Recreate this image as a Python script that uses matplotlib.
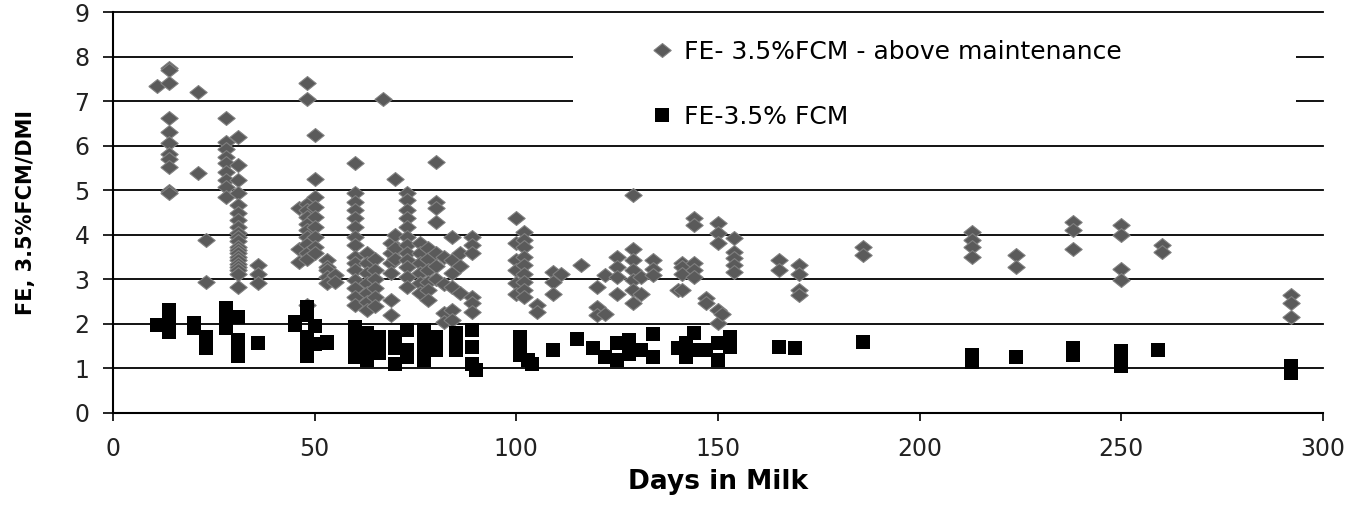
import matplotlib
matplotlib.use("Agg")
import matplotlib.pyplot as plt
from matplotlib.patches import Rectangle

# FE above maintenance: one entry per day in milk, with the cows' values on that day
above_days = [11, 14, 21, 23, 28, 31, 36, 46, 48, 50, 53, 55, 60, 63, 65, 67, 69, 70,
              73, 76, 78, 80, 82, 84, 86, 89, 100, 102, 105, 109, 111, 116, 120, 122,
              125, 129, 131, 134, 140, 141, 144, 147, 150, 151, 154, 165, 170, 186,
              213, 224, 238, 250, 260, 292]
above_fe = [
    [7.35],
    [7.75, 7.69, 7.4, 6.61, 6.31, 6.05, 5.82, 5.71, 5.52, 4.98, 4.93],
    [7.2, 5.38],
    [3.88, 2.94],
    [6.61, 6.08, 5.93, 5.75, 5.6, 5.41, 5.22, 5.07, 4.85],
    [6.2, 5.56, 5.22, 4.93, 4.66, 4.48, 4.33, 4.18, 4.03, 3.95, 3.85, 3.73, 3.65,
     3.58, 3.5, 3.43, 3.35, 3.28, 3.2, 3.13, 2.83],
    [3.32, 3.13, 2.91],
    [4.59, 3.69, 3.39],
    [7.4, 7.05, 4.7, 4.55, 4.4, 4.25, 4.1, 3.95, 3.8, 3.6, 3.45, 2.42],
    [6.23, 5.26, 4.85, 4.63, 4.4, 4.18, 3.95, 3.73, 3.58],
    [3.43, 3.28, 3.2, 3.06, 2.91],
    [3.1, 2.95],
    [5.6, 4.93, 4.74, 4.56, 4.37, 4.18, 3.96, 3.77, 3.51, 3.36, 3.21, 2.99, 2.8, 2.61, 2.42],
    [3.58, 3.36, 3.14, 2.91, 2.69, 2.5, 2.31],
    [3.45, 3.2, 3.0, 2.8, 2.6, 2.4],
    [7.05],
    [3.81, 3.58, 3.36, 3.14, 2.54, 2.2],
    [5.26, 4.0, 3.7, 3.45],
    [4.93, 4.78, 4.56, 4.37, 4.18, 3.96, 3.77, 3.58, 3.43, 3.28, 3.06, 2.83],
    [3.81, 3.58, 3.36, 3.14, 2.91, 2.69],
    [3.7, 3.45, 3.2, 2.95, 2.75, 2.54],
    [5.63, 4.74, 4.59, 4.29, 3.6, 3.3, 3.0],
    [3.5, 2.9, 2.24, 2.05],
    [3.96, 3.43, 3.14, 2.83, 2.31, 2.08],
    [3.6, 3.3, 2.7],
    [3.96, 3.77, 3.58, 2.61, 2.46, 2.27],
    [4.38, 3.81, 3.43, 3.21, 2.91, 2.68],
    [4.07, 3.89, 3.73, 3.51, 3.32, 3.13, 2.94, 2.76, 2.61],
    [2.42, 2.27],
    [3.17, 2.94, 2.68],
    [3.13],
    [3.32],
    [2.83, 2.38, 2.2],
    [3.09, 2.23],
    [3.51, 3.28, 3.06, 2.68],
    [4.89, 3.69, 3.43, 3.21, 2.98, 2.76, 2.46],
    [3.06, 2.68],
    [3.43, 3.24, 3.09],
    [2.76],
    [3.36, 3.28, 3.13, 2.76],
    [4.37, 4.22, 3.36, 3.21, 3.06],
    [2.57, 2.46],
    [4.26, 4.03, 3.81, 2.31, 2.01],
    [2.23],
    [3.92, 3.62, 3.47, 3.32, 3.17],
    [3.43, 3.21],
    [3.32, 3.13, 2.76, 2.64],
    [3.73, 3.54],
    [4.06, 3.88, 3.73, 3.51],
    [3.54, 3.28],
    [4.29, 4.11, 3.69],
    [4.22, 4.0, 3.24, 2.99],
    [3.77, 3.62],
    [2.65, 2.46, 2.16],
]

# FE on 3.5% FCM
fcm_days = [11, 14, 20, 23, 28, 31, 36, 45, 48, 50, 53, 60, 63, 66, 70, 73, 77, 80,
            85, 89, 90, 101, 103, 104, 109, 115, 119, 122, 125, 128, 131, 134, 140,
            142, 144, 147, 150, 153, 165, 169, 186, 213, 224, 238, 250, 259, 292]
fcm_fe = [
    [1.97],
    [2.31, 2.09, 2.0, 1.82],
    [2.01, 1.9],
    [1.71, 1.6, 1.45],
    [2.35, 2.1, 1.9],
    [2.16, 1.64, 1.45, 1.27],
    [1.56],
    [2.05, 1.98],
    [2.38, 2.2, 1.7, 1.5, 1.27],
    [1.95, 1.55],
    [1.6, 1.56],
    [1.94, 1.75, 1.56, 1.26],
    [1.79, 1.6, 1.49, 1.3, 1.2],
    [1.7, 1.45, 1.35],
    [1.71, 1.45, 1.11],
    [1.86, 1.41, 1.25],
    [1.86, 1.56, 1.4, 1.2],
    [1.71, 1.41],
    [1.79, 1.55, 1.41],
    [1.86, 1.49, 1.11],
    [0.96],
    [1.71, 1.56, 1.41, 1.3],
    [1.19],
    [1.11],
    [1.41],
    [1.67],
    [1.45],
    [1.26],
    [1.56, 1.19],
    [1.63, 1.33],
    [1.41],
    [1.78, 1.26],
    [1.45],
    [1.56, 1.26],
    [1.79, 1.41],
    [1.41],
    [1.56, 1.19],
    [1.71, 1.49],
    [1.49],
    [1.45],
    [1.6],
    [1.3, 1.15],
    [1.26],
    [1.45, 1.3],
    [1.4, 1.2, 1.05],
    [1.41],
    [1.05, 0.9],
]

above_label = 'FE- 3.5%FCM - above maintenance'
fcm_label = 'FE-3.5% FCM'
x_ticks = [0, 50, 100, 150, 200, 250, 300]
y_ticks = list(range(0, 10))


def expand(days, groups):
    xs, ys = [], []
    for d, vals in zip(days, groups):
        xs.extend([d] * len(vals))
        ys.extend(vals)
    return xs, ys


W, H = 1356, 505
fig = plt.figure(figsize=(W / 100, H / 100), dpi=100)
ax = fig.add_axes([113 / W, 1 - 413 / H, 1210 / W, 401 / H])

diamond = [(-1, 0), (0, 0.8), (1, 0), (0, -0.8), (-1, 0)]
ax_x, ax_y = expand(above_days, above_fe)
ax.plot(ax_x, ax_y, linestyle='none', marker=diamond, markersize=12.5,
        markerfacecolor='#5a5a5a', markeredgecolor='#808080', markeredgewidth=0.8,
        label=above_label, zorder=2)
fx, fy = expand(fcm_days, fcm_fe)
ax.plot(fx, fy, linestyle='none', marker='s', markersize=10,
        markerfacecolor='black', markeredgecolor='black', markeredgewidth=0,
        label=fcm_label, zorder=3)

ax.set_xlim(0, 300)
ax.set_ylim(0, 9)
ax.set_xticks(x_ticks)
ax.set_yticks(y_ticks)

for side in ('top', 'right'):
    ax.spines[side].set_visible(False)
for side in ('left', 'bottom'):
    ax.spines[side].set_linewidth(1.5)
    ax.spines[side].set_color('black')

ax.set_axisbelow(True)
ax.yaxis.grid(True, color='black', linewidth=1.3)
for gl in ax.get_ygridlines():
    gl.set_clip_on(False)

ax.tick_params(axis='y', direction='out', length=7, width=1.2, pad=10,
               labelsize=17, labelcolor='#222222')
ax.tick_params(axis='x', direction='out', length=6, width=1.2, pad=11,
               labelsize=17, labelcolor='#222222')

# white box behind the legend hides the gridlines, as in the original
ax.add_patch(Rectangle((0.380, 0.693), 0.5975, 0.274, transform=ax.transAxes,
                       facecolor='white', edgecolor='none', zorder=1))
ax.legend(loc='center left', bbox_to_anchor=((649 - 113) / 1210, 0.82),
          frameon=False, fontsize=18, borderpad=0, borderaxespad=0,
          handlelength=1, handletextpad=0.4, labelspacing=1.65)

ax.set_xlabel('Days in Milk', fontsize=19, fontweight='bold')
ax.xaxis.set_label_coords(0.5, -0.14)
ax.set_ylabel('FE, 3.5%FCM/DMI', fontsize=15, fontweight='bold')
ax.yaxis.set_label_coords(-0.064, 0.5)

fig.savefig('out.png', dpi=100)
